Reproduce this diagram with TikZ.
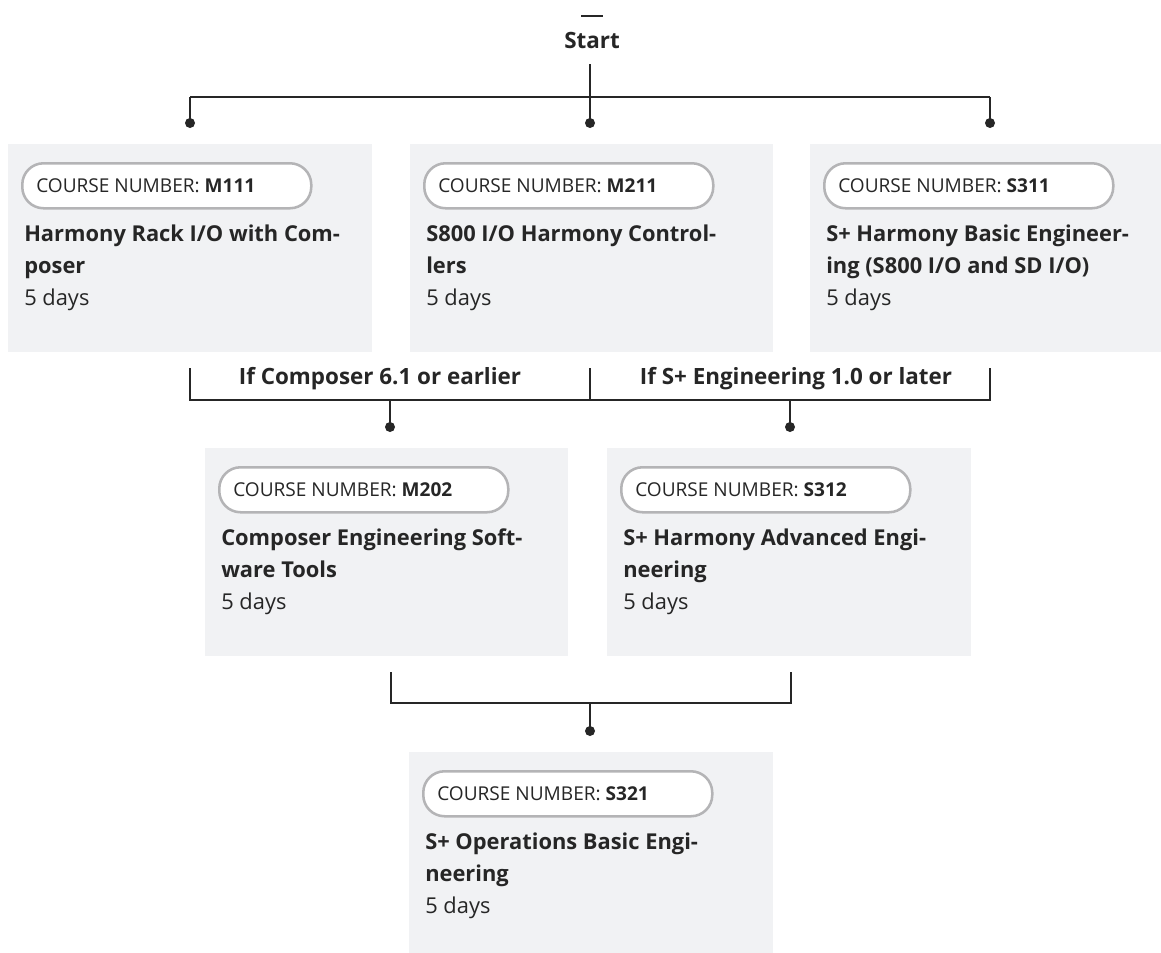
\documentclass[tikz,border=0pt]{standalone}
\usepackage{fontspec}
\setmainfont{Open Sans}
\usetikzlibrary{calc}
\definecolor{ink}{HTML}{262626}
\definecolor{boxgray}{HTML}{F1F2F4}
\definecolor{pillgray}{HTML}{B4B4B6}
\tikzset{
  cbox/.style={anchor=north west, fill=boxgray, draw=none, inner sep=0pt},
  pill/.style={anchor=north west, fill=white, draw=pillgray, line width=1.9pt,
    rounded corners=16pt, minimum width=216.75pt, minimum height=33.75pt, inner sep=0pt},
  numtext/.style={anchor=base west, inner sep=0pt, text=ink, font=\fontsize{14.3pt}{17pt}\selectfont},
  titletext/.style={anchor=base west, inner sep=0pt, text=ink, font=\fontsize{16.4pt}{19pt}\selectfont\bfseries},
  daystext/.style={anchor=base west, inner sep=0pt, text=ink, font=\fontsize{16.4pt}{19pt}\selectfont},
  cond/.style={anchor=base, inner sep=0pt, text=ink, font=\fontsize{16.8pt}{19pt}\selectfont\bfseries},
  conn/.style={draw=ink, line width=0.9pt},
  dot/.style={circle, fill=ink, draw=none, minimum size=7.5pt, inner sep=0pt},
}
\newcommand{\coursebox}[8]{%
  \node[cbox, minimum width={#4*0.75pt}, minimum height={#5*0.75pt}] (#1) at (#2,#3) {};
  \node[pill] (#1-pill) at ($(#1.north west)+(13,18)$) {};
  \node[numtext] (#1-num) at ($(#1.north west)+(28,48)$) {COURSE NUMBER: \textbf{#6}};
  \node[titletext] (#1-t1) at ($(#1.north west)+(16,97)$) {#7};
  \node[titletext] (#1-t2) at ($(#1.north west)+(16,129)$) {#8};
  \node[daystext] (#1-days) at ($(#1.north west)+(16,161)$) {5 days};
}
\begin{document}
\begin{tikzpicture}[x=0.75pt, y=-0.75pt]
\useasboundingbox (0,0) rectangle (1161,953);
\fill[white] (0,0) rectangle (1161,953);

% start
\node[anchor=center, inner sep=0pt, fill=ink, minimum width=17pt, minimum height=2.2pt] (dash) at (592,16) {};
\node[anchor=base, inner sep=0pt, text=ink, font=\fontsize{16.8pt}{19pt}\selectfont\bfseries] (start) at (592,48) {Start};

% boxes
\coursebox{m111}{8}{144}{364}{208}{M111}{Harmony Rack I/O with Com-}{poser}
\coursebox{m211}{410}{144}{363}{208}{M211}{S800 I/O Harmony Control-}{lers}
\coursebox{s311}{810}{144}{351}{208}{S311}{S+ Harmony Basic Engineer-}{ing (S800 I/O and SD I/O)}
\coursebox{m202}{205}{448}{363}{208}{M202}{Composer Engineering Soft-}{ware Tools}
\coursebox{s312}{607}{448}{364}{208}{S312}{S+ Harmony Advanced Engi-}{neering}
\coursebox{s321}{409}{752}{364}{201}{S321}{S+ Operations Basic Engi-}{neering}

% top connectors
\coordinate (s0) at (590,64);
\coordinate (hl1) at (190,97);
\coordinate (hm1) at (590,97);
\coordinate (hr1) at (990,97);
\node[dot] (d11) at (190,123) {};
\node[dot] (d12) at (590,123) {};
\node[dot] (d13) at (990,123) {};
\draw[conn] (hl1) -- (hr1);
\draw[conn] (s0) -- (hm1);
\draw[conn] (hl1) -- (d11.center);
\draw[conn] (hm1) -- (d12.center);
\draw[conn] (hr1) -- (d13.center);

% middle connectors
\coordinate (vl2) at (190,368);
\coordinate (vm2) at (590,368);
\coordinate (vr2) at (990,368);
\coordinate (hl2) at (190,400);
\coordinate (hm2) at (590,400);
\coordinate (hr2) at (990,400);
\coordinate (ha2) at (390,400);
\coordinate (hb2) at (790,400);
\node[dot] (d21) at (390,427) {};
\node[dot] (d22) at (790,427) {};
\draw[conn] (vl2) -- (hl2) -- (hr2) -- (vr2);
\draw[conn] (vm2) -- (hm2);
\draw[conn] (ha2) -- (d21.center);
\draw[conn] (hb2) -- (d22.center);
\node[cond] (c1) at (380,384) {If Composer 6.1 or earlier};
\node[cond] (c2) at (796,384) {If S+ Engineering 1.0 or later};

% bottom connectors
\coordinate (vl3) at (391,672);
\coordinate (vr3) at (791,672);
\coordinate (hl3) at (391,703);
\coordinate (hr3) at (791,703);
\coordinate (hm3) at (590,703);
\node[dot] (d31) at (590,731) {};
\draw[conn] (vl3) -- (hl3) -- (hr3) -- (vr3);
\draw[conn] (hm3) -- (d31.center);
\end{tikzpicture}
\end{document}
